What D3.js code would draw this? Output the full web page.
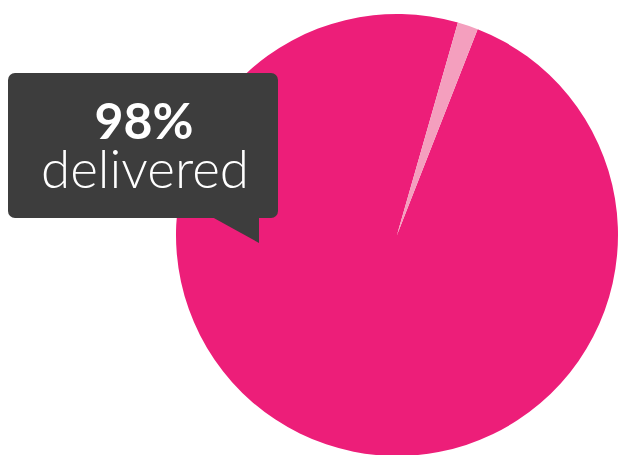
<!DOCTYPE html>
<html><head><meta charset="utf-8">
<script src="https://cdn.jsdelivr.net/npm/d3@7"></script>
<style>html,body{margin:0;padding:0;background:#fff;overflow:hidden}</style>
</head><body>
<svg id="chart" width="618" height="455"></svg>
<script>
const categories = ["delivered", "not delivered"];
const values = [98.5, 1.5];
const colors = ["#ED1E79", "#F49FBE"];
const labelPercent = "98%";
const labelText = "delivered";

const svg = d3.select("#chart");
const cx = 397, cy = 235, r = 221;
const start = 21.4 * Math.PI / 180;
const pie = d3.pie().sort(null).startAngle(start).endAngle(start + 2 * Math.PI);
const arc = d3.arc().innerRadius(0).outerRadius(r);
const data = pie(values);
svg.append("g").attr("transform", `translate(${cx},${cy})`)
  .selectAll("path").data(data).join("path")
  .attr("d", arc).attr("fill", (d, i) => colors[i]);

// callout
const g = svg.append("g");
g.append("rect").attr("x", 8).attr("y", 73).attr("width", 270).attr("height", 145)
  .attr("rx", 7).attr("fill", "#3d3d3d");
g.append("path").attr("d", "M212,217 L259,217 L259,243 Z").attr("fill", "#3d3d3d");
const t = g.append("text").attr("text-anchor", "middle").attr("fill", "#fff")
  .attr("font-family", "Lato");
t.append("tspan").attr("x", 144).attr("y", 139)
  .attr("font-weight", 700).attr("font-size", 50).text(labelPercent);
t.append("tspan").attr("x", 145).attr("y", 188)
  .attr("font-weight", 300).attr("font-size", 53).text(labelText);
</script>
</body></html>
